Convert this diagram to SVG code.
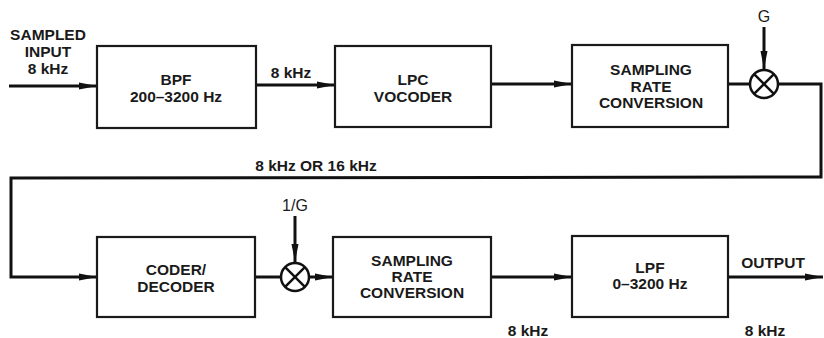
<svg xmlns="http://www.w3.org/2000/svg" width="824" height="338" viewBox="0 0 824 338">
<defs>
<style>
.box{fill:#fff;stroke:#1a1a1a;stroke-width:2.2}
.ln{fill:none;stroke:#111;stroke-width:3}
.t{font-family:"Liberation Sans",Arial,sans-serif;font-weight:bold;font-size:15.5px;fill:#1a1a1a;text-anchor:middle}
.s{font-family:"Liberation Sans",Arial,sans-serif;font-size:16px;fill:#1a1a1a;text-anchor:middle}
.mul{fill:#fff;stroke:#111;stroke-width:2.5}
.x{stroke:#111;stroke-width:2.5}
</style>
<marker id="ah" viewBox="0 0 18 8" refX="18" refY="4" markerWidth="18" markerHeight="8" markerUnits="userSpaceOnUse" orient="auto">
<path d="M0,0.5 L18,4 L0,7.5 Z" fill="#111"/>
</marker>
</defs>
<rect width="824" height="338" fill="#fff"/>

<g id="connectors">
<line class="ln" x1="9" y1="86" x2="97" y2="86" marker-end="url(#ah)"/>
<line class="ln" x1="256" y1="85" x2="335" y2="85" marker-end="url(#ah)"/>
<line class="ln" x1="491" y1="84" x2="572" y2="84" marker-end="url(#ah)"/>
<line class="ln" x1="728" y1="84" x2="750" y2="84"/>
<line class="ln" x1="764" y1="27" x2="764" y2="69" marker-end="url(#ah)"/>
<polyline class="ln" points="778,84 821,84 821,177 11,178 11,277 97,277" marker-end="url(#ah)"/>
<line class="ln" x1="255" y1="277" x2="280" y2="277"/>
<line class="ln" x1="295" y1="216" x2="295" y2="262" marker-end="url(#ah)"/>
<line class="ln" x1="310" y1="277" x2="333" y2="277" marker-end="url(#ah)"/>
<line class="ln" x1="491" y1="277" x2="572" y2="277" marker-end="url(#ah)"/>
<line class="ln" x1="728" y1="277" x2="823" y2="277" marker-end="url(#ah)"/>
</g>

<g id="labels">
<text class="t" x="48" y="40">SAMPLED</text>
<text class="t" x="48" y="57">INPUT</text>
<text class="t" x="48" y="74">8 kHz</text>
<text class="t" x="291" y="78">8 kHz</text>
<text class="s" x="764" y="22">G</text>
<text class="t" x="316" y="171">8 kHz OR 16 kHz</text>
<text class="s" x="295" y="211">1/G</text>
<text class="t" x="773" y="268">OUTPUT</text>
<text class="t" x="528" y="336">8 kHz</text>
<text class="t" x="765" y="336">8 kHz</text>
</g>

<g id="bpf">
<rect class="box" x="97" y="46" width="159" height="82"/>
<text class="t" x="176" y="85">BPF</text>
<text class="t" x="176" y="102">200–3200 Hz</text>
</g>
<g id="lpc">
<rect class="box" x="335" y="46" width="156" height="81"/>
<text class="t" x="413" y="85">LPC</text>
<text class="t" x="413" y="102">VOCODER</text>
</g>
<g id="src1">
<rect class="box" x="572" y="45" width="156" height="82"/>
<text class="t" x="651" y="75">SAMPLING</text>
<text class="t" x="651" y="92">RATE</text>
<text class="t" x="651" y="108">CONVERSION</text>
</g>
<g id="mul1">
<circle class="mul" cx="764" cy="84" r="14"/>
<line class="x" x1="754.1" y1="74.1" x2="773.9" y2="93.9"/>
<line class="x" x1="773.9" y1="74.1" x2="754.1" y2="93.9"/>
</g>
<g id="coder">
<rect class="box" x="97" y="237" width="158" height="80"/>
<text class="t" x="176" y="275">CODER/</text>
<text class="t" x="176" y="292">DECODER</text>
</g>
<g id="mul2">
<circle class="mul" cx="295" cy="277" r="14"/>
<line class="x" x1="285.1" y1="267.1" x2="304.9" y2="286.9"/>
<line class="x" x1="304.9" y1="267.1" x2="285.1" y2="286.9"/>
</g>
<g id="src2">
<rect class="box" x="333" y="237" width="158" height="80"/>
<text class="t" x="412" y="266">SAMPLING</text>
<text class="t" x="412" y="282">RATE</text>
<text class="t" x="412" y="298">CONVERSION</text>
</g>
<g id="lpf">
<rect class="box" x="572" y="236" width="156" height="81"/>
<text class="t" x="650" y="273">LPF</text>
<text class="t" x="650" y="289">0–3200 Hz</text>
</g>
</svg>
